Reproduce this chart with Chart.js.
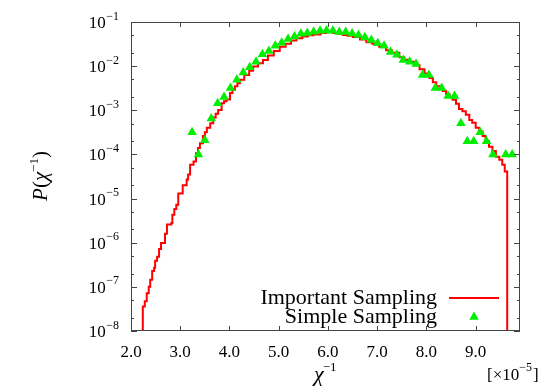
<!DOCTYPE html>
<html>
<head>
<meta charset="utf-8">
<script src="https://cdn.jsdelivr.net/npm/chart.js@4.4.1/dist/chart.umd.min.js"></script>
<style>
  html, body { margin: 0; padding: 0; background: #fff; }
  #wrap { width: 552px; height: 386px; }
</style>
</head>
<body>
<div id="wrap"><canvas id="chart" width="552" height="386"></canvas></div>
<script>
// x in units of 1e-5, step positions of the histogram (left edges)
const impX = [2.20, 2.24, 2.28, 2.32, 2.36, 2.39, 2.43, 2.47, 2.49, 2.53, 2.57, 2.61, 2.69, 2.73, 2.82, 2.84,
  2.88, 2.92, 2.96, 3.05, 3.13, 3.16, 3.20, 3.27, 3.32, 3.36, 3.40, 3.46, 3.50, 3.54, 3.61, 3.67, 3.72,
  3.77, 3.84, 3.89, 3.94, 4.01, 4.06, 4.11, 4.16, 4.21, 4.30, 4.40, 4.48, 4.58, 4.68, 4.78, 4.90, 5.02,
  5.14, 5.25, 5.36, 5.48, 5.59, 5.70, 5.85, 5.97, 6.10, 6.20, 6.30, 6.40, 6.51, 6.65, 6.78, 6.90, 7.04,
  7.18, 7.30, 7.45, 7.55, 7.65, 7.75, 7.86, 7.96, 8.06, 8.13, 8.20, 8.27, 8.33, 8.40, 8.47, 8.53, 8.60,
  8.66, 8.73, 8.80, 8.87, 8.93, 9.00, 9.07, 9.14, 9.20, 9.27, 9.34, 9.41, 9.48, 9.54, 9.59, 9.64];
const impP = [1e-9, 3.6e-8, 4.7e-8, 7.2e-8, 1.0e-7, 1.45e-7, 2.3e-7, 2.7e-7, 3.9e-7, 4.8e-7, 7.2e-7, 9.8e-7,
  1.6e-6, 2.6e-6, 2.8e-6, 4.3e-6, 5.8e-6, 7.2e-6, 1.3e-5, 2.0e-5, 2.7e-5, 3.5e-5, 5.8e-5, 6.9e-5, 1.07e-4,
  1.4e-4, 1.8e-4, 2.6e-4, 3.2e-4, 4.0e-4, 5.1e-4, 6.9e-4, 8.3e-4, 1.02e-3, 1.45e-3, 1.6e-3, 1.75e-3,
  2.45e-3, 2.9e-3, 3.5e-3, 4.1e-3, 4.9e-3, 6.3e-3, 7.9e-3, 9.8e-3, 1.17e-2, 1.38e-2, 1.74e-2, 2.2e-2,
  2.75e-2, 3.2e-2, 3.8e-2, 4.3e-2, 4.7e-2, 5.0e-2, 5.2e-2, 5.6e-2, 5.9e-2, 5.6e-2, 5.4e-2, 5.1e-2, 4.9e-2,
  4.6e-2, 4.0e-2, 3.5e-2, 3.2e-2, 2.75e-2, 2.3e-2, 2.0e-2, 1.6e-2, 1.4e-2, 1.26e-2, 1.05e-2, 8.5e-3,
  6.8e-3, 5.4e-3, 4.3e-3, 3.5e-3, 3.2e-3, 2.75e-3, 2.3e-3, 2.0e-3, 1.74e-3, 1.4e-3, 1.07e-3, 9.5e-4,
  7.9e-4, 6.0e-4, 5.2e-4, 4.0e-4, 3.3e-4, 2.6e-4, 2.0e-4, 1.5e-4, 1.2e-4, 8.9e-5, 7.6e-5, 5.8e-5,
  4.1e-5, 1e-9];

const simX = [3.24, 3.37, 3.50, 3.63, 3.76, 3.89, 4.02, 4.15, 4.28, 4.41, 4.54, 4.67, 4.80, 4.93, 5.06,
  5.19, 5.32, 5.45, 5.58, 5.71, 5.84, 5.97, 6.10, 6.23, 6.36, 6.49, 6.62, 6.75, 6.88, 7.01, 7.14, 7.27,
  7.40, 7.53, 7.66, 7.79, 7.92, 8.05, 8.18, 8.31, 8.44, 8.57, 8.70, 8.83, 8.96, 9.09, 9.22, 9.35, 9.61, 9.74];
const simP = [3.2e-4, 1.0e-4, 2.1e-4, 6.5e-4, 1.45e-3, 2.0e-3, 3.2e-3, 4.9e-3, 7.2e-3, 9.5e-3, 1.26e-2,
  1.85e-2, 2.2e-2, 2.9e-2, 3.4e-2, 4.1e-2, 4.7e-2, 5.4e-2, 5.6e-2, 6.0e-2, 6.3e-2, 6.4e-2, 6.3e-2, 5.9e-2,
  5.9e-2, 5.5e-2, 5.1e-2, 4.5e-2, 3.9e-2, 3.3e-2, 2.9e-2, 2.1e-2, 1.8e-2, 1.38e-2, 1.26e-2, 1.12e-2,
  6.3e-3, 6.3e-3, 3.2e-3, 3.2e-3, 2.1e-3, 2.1e-3, 5.1e-4, 2.0e-4, 2.0e-4, 3.2e-4, 2.0e-4, 1.0e-4, 1.0e-4, 1.0e-4];

const xTicks = [2, 3, 4, 5, 6, 7, 8, 9];
const xTickLabels = ['2.0', '3.0', '4.0', '5.0', '6.0', '7.0', '8.0', '9.0'];
const yTicks = [1e-8, 1e-7, 1e-6, 1e-5, 1e-4, 1e-3, 1e-2, 1e-1];
const yTickExps = ['\u22128', '\u22127', '\u22126', '\u22125', '\u22124', '\u22123', '\u22122', '\u22121'];
const yMinorMult = [2, 5];

const SERIF = '"Liberation Serif", "DejaVu Serif", serif';
const font = (size, style) => (style ? style + ' ' : '') + size + 'px ' + SERIF;

// frame, inward ticks, labels and the legend, all placed through the scales
const decorations = {
  id: 'decorations',
  afterDraw(chart) {
    const { ctx, chartArea: a } = chart;
    const xs = chart.scales.x, ys = chart.scales.y;
    ctx.save();

    ctx.strokeStyle = '#444';
    ctx.lineWidth = 1;
    ctx.strokeRect(a.left + 0.5, a.top + 0.5, a.right - a.left - 1, a.bottom - a.top - 1);

    ctx.beginPath();
    xTicks.forEach(v => {
      const px = Math.round(xs.getPixelForValue(v)) + 0.5;
      ctx.moveTo(px, a.bottom); ctx.lineTo(px, a.bottom - 5);
      ctx.moveTo(px, a.top); ctx.lineTo(px, a.top + 5);
    });
    yTicks.forEach(v => {
      const py = Math.round(ys.getPixelForValue(v)) + 0.5;
      ctx.moveTo(a.left, py); ctx.lineTo(a.left + 6, py);
      ctx.moveTo(a.right, py); ctx.lineTo(a.right - 6, py);
      if (v < 0.1) {
        yMinorMult.forEach(m => {
          const pm = Math.round(ys.getPixelForValue(v * m)) + 0.5;
          ctx.moveTo(a.left, pm); ctx.lineTo(a.left + 3, pm);
          ctx.moveTo(a.right, pm); ctx.lineTo(a.right - 3, pm);
        });
      }
    });
    ctx.stroke();

    ctx.fillStyle = '#000';
    // x tick labels
    ctx.font = font(17);
    ctx.textAlign = 'center';
    ctx.textBaseline = 'alphabetic';
    xTicks.forEach((v, i) => {
      ctx.fillText(xTickLabels[i], xs.getPixelForValue(v), 357);
    });

    // y tick labels: 10 with superscript exponent
    const rightEdge = 119;
    yTicks.forEach((v, i) => {
      const py = ys.getPixelForValue(v);
      ctx.font = font(12);
      const ew = ctx.measureText(yTickExps[i]).width;
      ctx.textAlign = 'left';
      ctx.fillText(yTickExps[i], rightEdge - ew, py - 2.5);
      ctx.font = font(17);
      ctx.textAlign = 'right';
      ctx.fillText('10', rightEdge - ew - 0.5, py + 6);
    });

    // x axis title
    ctx.textAlign = 'left';
    ctx.font = font(22, 'italic');
    ctx.fillText('\u03c7', 314, 381);
    const cw = ctx.measureText('\u03c7').width;
    ctx.font = font(13);
    ctx.fillText('\u22121', 314 + cw - 1, 371);

    // multiplier
    ctx.font = font(17);
    ctx.fillText('[\u00d710', 487, 380);
    let w = ctx.measureText('[\u00d710').width;
    ctx.font = font(12);
    ctx.fillText('\u22125', 487 + w, 371);
    const w2 = ctx.measureText('\u22125').width;
    ctx.font = font(17);
    ctx.fillText(']', 487 + w + w2 + 1, 380);

    // y axis title, rotated
    ctx.save();
    ctx.translate(47, 176);
    ctx.rotate(-Math.PI / 2);
    const parts = [
      ['P', font(21, 'italic'), 0],
      ['(', font(21), 0],
      ['\u03c7', font(21, 'italic'), 0],
      ['\u22121', font(13), -9],
      [')', font(21), 0]
    ];
    let total = 0;
    parts.forEach(p => { ctx.font = p[1]; total += ctx.measureText(p[0]).width; });
    let cx = -total / 2;
    parts.forEach(p => {
      ctx.font = p[1];
      ctx.fillText(p[0], cx, p[2]);
      cx += ctx.measureText(p[0]).width;
    });
    ctx.restore();

    // legend (text left of the sample)
    const dsImp = chart.data.datasets[1], dsSim = chart.data.datasets[0];
    ctx.font = font(22);
    ctx.textAlign = 'right';
    ctx.fillText(dsImp.label, 437, 304);
    ctx.fillText(dsSim.label, 437, 323);
    ctx.strokeStyle = dsImp.borderColor;
    ctx.lineWidth = 2;
    ctx.beginPath();
    ctx.moveTo(449, 298); ctx.lineTo(499, 298);
    ctx.stroke();
    ctx.fillStyle = dsSim.backgroundColor;
    Chart.helpers.drawPoint(ctx, { pointStyle: 'triangle', radius: 5.5, rotation: 0, borderWidth: 0 }, 474, 317);
    ctx.restore();
  }
};

new Chart(document.getElementById('chart'), {
  type: 'scatter',
  data: {
    datasets: [
      {
        label: 'Simple Sampling',
        data: simX.map((x, i) => ({ x, y: simP[i] })),
        pointStyle: 'triangle',
        pointRadius: 5.5,
        pointBorderWidth: 0,
        backgroundColor: '#00ee00',
        borderColor: '#00ee00',
        showLine: false,
        order: 1
      },
      {
        label: 'Important Sampling',
        data: impX.map((x, i) => ({ x, y: impP[i] })),
        showLine: true,
        stepped: 'before',
        borderColor: '#ff0000',
        borderWidth: 2,
        pointRadius: 0,
        order: 2
      }
    ]
  },
  options: {
    responsive: false,
    animation: false,
    devicePixelRatio: 1,
    layout: { padding: { left: 0, right: 32, top: 22, bottom: 0 } },
    plugins: { legend: { display: false }, tooltip: { enabled: false } },
    scales: {
      x: {
        type: 'linear',
        min: 2.0,
        max: 9.9,
        grid: { display: false },
        border: { display: false },
        ticks: { display: false },
        afterFit(scale) { scale.height = 55; }
      },
      y: {
        type: 'logarithmic',
        min: 1e-8,
        max: 1e-1,
        grid: { display: false },
        border: { display: false },
        ticks: { display: false },
        afterFit(scale) { scale.width = 131; }
      }
    }
  },
  plugins: [decorations]
});
</script>
</body>
</html>
